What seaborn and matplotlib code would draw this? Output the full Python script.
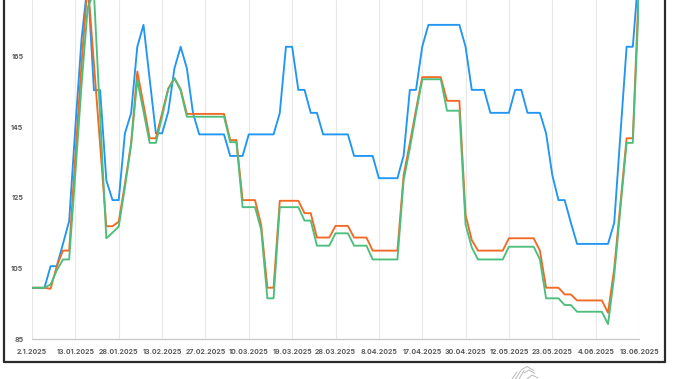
import numpy as np
import pandas as pd
import matplotlib
matplotlib.use("Agg")
import matplotlib.pyplot as plt
import seaborn as sns
from matplotlib.lines import Line2D

# ---------------- data ----------------
tick_labels = ["2.1.2025", "13.01.2025", "28.01.2025", "13.02.2025", "27.02.2025",
               "10.03.2025", "19.03.2025", "28.03.2025", "8.04.2025", "17.04.2025",
               "30.04.2025", "12.05.2025", "23.05.2025", "4.06.2025", "13.06.2025"]
y_ticks = [85, 105, 125, 145, 165]

blue = [99.5, 99.5, 99.5, 105.7, 105.7, 112.0, 118.5, 145.0, 170.0, 186.0,
        155.5, 155.5, 130.0, 124.4, 124.4, 143.3, 149.0, 167.8, 174.0, 158.6,
        143.3, 143.3, 149.4, 161.7, 167.8, 161.7, 149.0, 143.0, 143.0, 143.0,
        143.0, 143.0, 136.9, 136.9, 136.9, 143.0, 143.0, 143.0, 143.0, 143.0,
        149.0, 167.8, 167.8, 155.6, 155.6, 149.1, 149.1, 143.0, 143.0, 143.0,
        143.0, 143.0, 136.9, 136.9, 136.9, 136.9, 130.6, 130.6, 130.6, 130.6,
        137.0, 155.6, 155.6, 167.8, 174.0, 174.0, 174.0, 174.0, 174.0, 174.0,
        167.8, 155.6, 155.6, 155.6, 149.1, 149.1, 149.1, 149.1, 155.6, 155.6,
        149.1, 149.1, 149.1, 143.3, 131.5, 124.4, 124.4, 118.0, 112.0, 112.0,
        112.0, 112.0, 112.0, 112.0, 118.0, 143.0, 167.8, 167.8, 190.0]

orange = [99.6, 99.6, 99.6, 99.3, 105.7, 110.1, 110.1, 137.0, 163.0, 186.0,
          163.0, 140.0, 117.0, 117.0, 118.3, 129.0, 140.5, 160.8, 151.5, 141.9,
          141.9, 149.0, 156.0, 158.9, 155.8, 148.8, 148.8, 148.8, 148.8, 148.8,
          148.8, 148.8, 141.4, 141.4, 124.4, 124.4, 124.4, 117.4, 99.6, 99.6,
          124.2, 124.2, 124.2, 124.2, 120.7, 120.7, 113.8, 113.8, 113.8, 117.1,
          117.1, 117.1, 113.8, 113.8, 113.8, 110.1, 110.1, 110.1, 110.1, 110.1,
          131.5, 140.5, 150.0, 159.2, 159.2, 159.2, 159.2, 152.5, 152.5, 152.5,
          120.2, 113.1, 110.1, 110.1, 110.1, 110.1, 110.1, 113.6, 113.6, 113.6,
          113.6, 113.6, 110.1, 99.6, 99.6, 99.6, 97.7, 97.7, 96.0, 96.0,
          96.0, 96.0, 96.0, 92.5, 105.0, 123.5, 141.9, 141.9, 186.0]

green = [99.6, 99.6, 99.6, 100.5, 104.5, 107.6, 107.6, 132.0, 157.0, 179.0,
         183.0, 148.0, 113.6, 115.2, 116.9, 128.0, 140.0, 158.4, 149.5, 140.6,
         140.6, 148.0, 155.8, 158.9, 155.4, 148.0, 148.0, 148.0, 148.0, 148.0,
         148.0, 148.0, 140.8, 140.8, 122.4, 122.4, 122.4, 116.0, 96.6, 96.6,
         122.4, 122.4, 122.4, 122.4, 118.6, 118.6, 111.5, 111.5, 111.5, 115.0,
         115.0, 115.0, 111.5, 111.5, 111.5, 107.6, 107.6, 107.6, 107.6, 107.6,
         130.0, 139.0, 149.0, 158.6, 158.6, 158.6, 158.6, 149.7, 149.7, 149.7,
         117.5, 111.0, 107.6, 107.6, 107.6, 107.6, 107.6, 111.2, 111.2, 111.2,
         111.2, 111.2, 107.6, 96.6, 96.6, 96.6, 94.7, 94.7, 92.8, 92.8,
         92.8, 92.8, 92.8, 89.3, 103.0, 122.0, 140.6, 140.6, 182.0]

series_names = ["blue", "orange", "green"]
colors = {"blue": "#2196F3", "orange": "#F06A25", "green": "#4DBE7C"}

# ---------------- frame ----------------
sns.set_theme(style="white")
plt.rcParams["font.family"] = ["Inter", "DejaVu Sans"]

W, H = 675, 379
fig = plt.figure(figsize=(W / 100, H / 100), dpi=100)
fig.patch.set_facecolor("white")

ax_left, ax_right, ax_bottom = 32, 639, 339.3
ax = fig.add_axes([ax_left / W, 1 - ax_bottom / H, (ax_right - ax_left) / W, ax_bottom / H])
ax.set_facecolor("white")

n = len(blue)
df = pd.DataFrame({
    "idx": np.tile(np.arange(n), 3),
    "value": blue + orange + green,
    "series": np.repeat(series_names, n),
})
sns.lineplot(data=df, x="idx", y="value", hue="series", palette=colors,
             hue_order=series_names, linewidth=1.35, legend=False, ax=ax,
             estimator=None, sort=False)

ax.set_xlim(0, n - 1)
ax.set_ylim(85, 85 + ax_bottom / 3.533)
ax.set_xticks(np.arange(0, n, 7))
ax.set_xticklabels(tick_labels)
ax.set_yticks(y_ticks)
ax.set_xlabel("")
ax.set_ylabel("")

ax.grid(axis="x", color="#e8e8e8", linewidth=0.8)
ax.grid(axis="y", visible=False)
ax.set_axisbelow(True)
for s in ["top", "right", "left"]:
    ax.spines[s].set_visible(False)
ax.spines["bottom"].set_color("#c8c8c8")
ax.spines["bottom"].set_linewidth(0.9)

ax.tick_params(axis="x", length=0, labelsize=5, labelcolor="#5a5a5a", pad=7.3)
ax.tick_params(axis="y", length=0, labelsize=5, labelcolor="#5a5a5a", pad=6.2)
for lab in ax.get_xticklabels() + ax.get_yticklabels():
    lab.set_fontweight("bold")

# outer frame (screenshot border)
fy = 1 - 362 / H
for xs, ys in [([3.5 / W, 3.5 / W], [fy, 1.01]),
               ([3.5 / W, 664.5 / W], [fy, fy]),
               ([664.5 / W, 664.5 / W], [fy, 1.01])]:
    fig.add_artist(Line2D(xs, ys, transform=fig.transFigure, color="#2b2b2b", lw=1.6))

# faint logo below the frame
logo = [[(512, 379), (517, 372)], [(515.5, 379), (520.5, 371)], [(519, 379), (524, 370.5)],
        [(521, 370), (527, 366.5), (534, 370.5)], [(524, 373), (529, 370), (535, 373.5)],
        [(527, 379), (532, 375), (538, 378)]]
for seg in logo:
    xs = [p[0] / W for p in seg]
    ys = [1 - p[1] / H for p in seg]
    fig.add_artist(Line2D(xs, ys, transform=fig.transFigure, color="#b8b8b8", lw=0.7))

fig.savefig("out.png", dpi=100, facecolor="white")
